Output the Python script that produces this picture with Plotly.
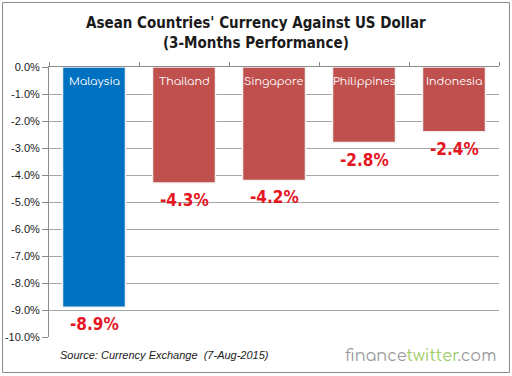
import plotly.graph_objects as go

countries = ["Malaysia", "Thailand", "Singapore", "Philippines", "Indonesia"]
values = [-8.9, -4.3, -4.2, -2.8, -2.4]
colors = ["#0070c0", "#c0504d", "#c0504d", "#c0504d", "#c0504d"]
ytick_vals = [0, -1, -2, -3, -4, -5, -6, -7, -8, -9, -10]
ytick_text = ["%.1f%%" % v for v in ytick_vals]

xs = list(range(len(countries)))

fig = go.Figure()
fig.add_trace(go.Bar(
    x=xs, y=values, width=0.7,
    marker=dict(color=colors, line=dict(color="#f2f2f2", width=1.5)),
    hoverinfo="skip",
))

L, R, T, B = 49, 13, 67, 39
W, H = 512, 376
pw, ph = W - L - R, H - T - B

def px2x(px):
    return (px - L) / pw

def py2y(py):
    return (H - B - py) / ph

COND = "Liberation Sans Narrow, DejaVu Sans Condensed, sans-serif"

annotations = []
for x, c, v in zip(xs, countries, values):
    annotations.append(dict(
        x=x, y=0, xref="x", yref="y", text=c, showarrow=False,
        yanchor="top", yshift=-6,
        font=dict(family="Comfortaa, Lato, sans-serif", size=11, color="white"),
    ))
    annotations.append(dict(
        x=x, y=v, xref="x", yref="y", text="<b>%.1f%%</b>" % v, showarrow=False,
        yanchor="top", yshift=-5,
        font=dict(family=COND, size=17, color="#e4161f"),
    ))

annotations.append(dict(
    x=px2x(256), y=py2y(33), xref="paper", yref="paper", showarrow=False,
    text="<b>Asean Countries' Currency Against US Dollar<br>(3-Months Performance)</b>",
    font=dict(family=COND, size=15, color="#1a1a1a"),
    xanchor="center", yanchor="middle",
))
annotations.append(dict(
    x=px2x(58), y=py2y(355), xref="paper", yref="paper", showarrow=False,
    text="<i>Source: Currency Exchange  (7-Aug-2015)</i>",
    font=dict(family="Liberation Sans, Arial, sans-serif", size=11, color="#1a1a1a"),
    xanchor="left", yanchor="middle",
))
annotations.append(dict(
    x=px2x(498), y=py2y(356), xref="paper", yref="paper", showarrow=False,
    text="<span style='color:#9a9a9a'>finance</span><span style='color:#9ccc65'>twitter</span><span style='color:#9a9a9a'>.com</span>",
    font=dict(family="Comfortaa, Lato, sans-serif", size=16),
    xanchor="right", yanchor="middle",
))

fig.update_layout(
    width=W, height=H,
    margin=dict(l=L, r=R, t=T, b=B, pad=0, autoexpand=False),
    paper_bgcolor="white", plot_bgcolor="white",
    showlegend=False,
    bargap=0.3,
    annotations=annotations,
    shapes=[dict(type="rect", xref="paper", yref="paper",
                 x0=px2x(2.5), x1=px2x(509.5), y0=py2y(372.5), y1=py2y(2.5),
                 line=dict(color="#8c8c8c", width=1), fillcolor="rgba(0,0,0,0)", layer="below")],
    xaxis=dict(
        range=[-0.5, 4.5], side="top", showline=True, linecolor="#8c8c8c", linewidth=1,
        tickvals=[-0.5, 0.5, 1.5, 2.5, 3.5, 4.5], ticks="outside", ticklen=4,
        tickcolor="#8c8c8c", showticklabels=False, showgrid=False, zeroline=False,
        fixedrange=True, automargin=False,
    ),
    yaxis=dict(
        range=[-10, 0], tickvals=ytick_vals, ticktext=ytick_text,
        showline=True, linecolor="#8c8c8c", linewidth=1,
        ticks="outside", ticklen=6, tickcolor="#8c8c8c",
        showgrid=True, gridcolor="#a6a6a6", gridwidth=1, zeroline=False,
        tickfont=dict(family="Liberation Sans, Arial, sans-serif", size=11, color="#1a1a1a"),
        fixedrange=True, automargin=False,
    ),
)

fig.write_html("out.html", config={"displayModeBar": False},
               post_script="document.body.style.margin='0';document.body.style.overflow='hidden';")
